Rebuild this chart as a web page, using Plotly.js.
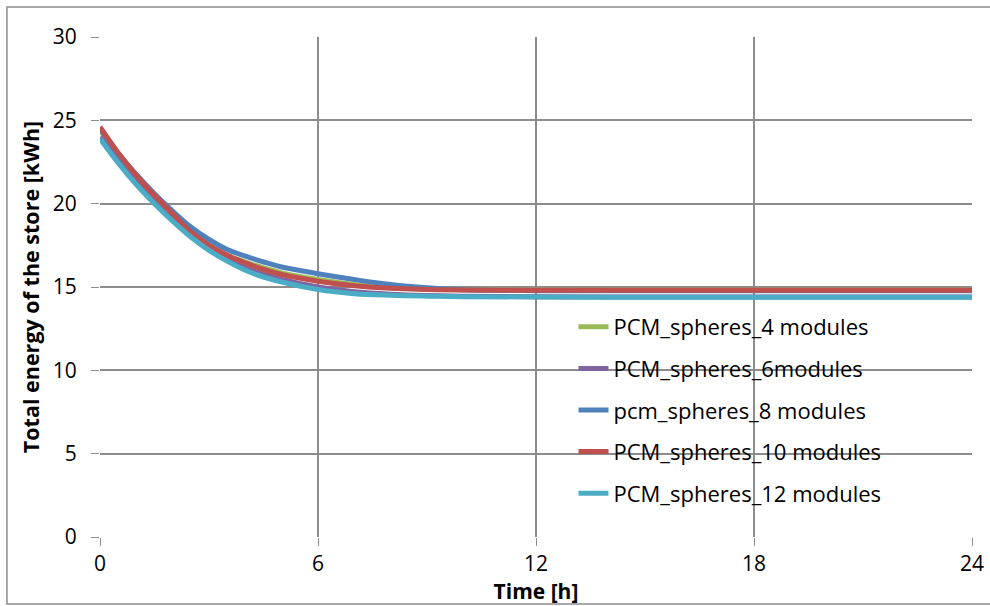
<!DOCTYPE html>
<html>
<head>
<meta charset="utf-8">
<script src="https://cdn.plot.ly/plotly-3.0.1.min.js"></script>
<style>html,body{margin:0;padding:0;background:#fff;}#chart{width:990px;height:606px;}</style>
</head>
<body>
<div id="chart"></div>
<script>
// Time [h]
const timeH = [0, 0.5, 1, 1.5, 2, 2.5, 3, 3.5, 4, 4.5, 5, 6, 7, 8, 9, 10, 12, 15, 18, 21, 24];

// Total energy of the store [kWh]
const pcm4  = [24.4, 23.0, 21.7, 20.5, 19.35, 18.3, 17.5, 16.9, 16.5, 16.15, 15.85, 15.45, 15.15, 14.95, 14.87, 14.83, 14.8, 14.8, 14.8, 14.8, 14.8];
const pcm6  = [24.0, 22.6, 21.3, 20.1, 19.05, 18.1, 17.3, 16.65, 16.15, 15.75, 15.45, 15.0, 14.72, 14.57, 14.49, 14.45, 14.42, 14.4, 14.4, 14.4, 14.4];
const pcm8  = [24.5, 23.0, 21.75, 20.6, 19.55, 18.6, 17.85, 17.25, 16.85, 16.5, 16.2, 15.8, 15.45, 15.15, 14.95, 14.83, 14.78, 14.78, 14.78, 14.78, 14.78];
const pcm10 = [24.6, 23.05, 21.7, 20.5, 19.4, 18.3, 17.5, 16.9, 16.45, 16.05, 15.75, 15.35, 15.08, 14.92, 14.85, 14.82, 14.8, 14.8, 14.8, 14.8, 14.8];
const pcm12 = [23.9, 22.45, 21.15, 20.0, 18.95, 18.0, 17.2, 16.55, 16.0, 15.6, 15.3, 14.85, 14.6, 14.5, 14.45, 14.42, 14.4, 14.38, 14.38, 14.38, 14.38];

const seriesNames = ["PCM_spheres_4 modules", "PCM_spheres_6modules", "pcm_spheres_8 modules", "PCM_spheres_10 modules", "PCM_spheres_12 modules"];
const seriesData = [pcm4, pcm6, pcm8, pcm10, pcm12];
const seriesColors = ["#9BBB59", "#8064A2", "#4F81BD", "#C0504D", "#4BACC6"];

const xTicks = [0, 6, 12, 18, 24];
const yTicks = [0, 5, 10, 15, 20, 25, 30];

const traces = seriesData.map((ys, i) => ({
  x: timeH, y: ys, type: "scatter", mode: "lines",
  name: seriesNames[i], legendgroup: "g" + i,
  line: {color: seriesColors[i], width: 5, shape: "spline", smoothing: 1}
}));

const font = "Open Sans, Noto Sans, DejaVu Sans, sans-serif";

const layout = {
  width: 990, height: 606,
  margin: {l: 100, r: 18, t: 37, b: 69},
  paper_bgcolor: "#ffffff", plot_bgcolor: "#ffffff",
  showlegend: true,
  font: {family: font, color: "#000000"},
  legend: {
    x: 0.543, y: 0.462, xanchor: "left", yanchor: "top",
    bgcolor: "rgba(0,0,0,0)", borderwidth: 0,
    font: {family: font, size: 22, color: "#000"},
    tracegroupgap: 10, traceorder: "grouped"
  },
  xaxis: {
    range: [0, 24], tickvals: xTicks, ticktext: xTicks.map(String),
    showgrid: true, gridcolor: "#8c8c8c", gridwidth: 2,
    zeroline: false, showline: false,
    ticks: "outside", ticklen: 8, tickcolor: "#8c8c8c", tickwidth: 1,
    tickfont: {family: font, size: 21, color: "#000"},
    title: {text: "<b>Time [h]</b>", font: {family: font, size: 21, color: "#000"}, standoff: 0}
  },
  yaxis: {
    range: [0, 30], tickvals: yTicks, ticktext: yTicks.map(String),
    showgrid: true, gridcolor: "#8c8c8c", gridwidth: 2,
    zeroline: false, showline: false,
    ticks: "outside", ticklen: 8, tickcolor: "#8c8c8c", tickwidth: 1,
    ticklabelstandoff: 10,
    tickfont: {family: font, size: 21, color: "#000"},
    title: {text: "<b>Total energy of the store [kWh]</b>", font: {family: font, size: 21.5, color: "#000"}, standoff: 7}
  },
  shapes: [{
    type: "rect", xref: "paper", yref: "paper",
    x0: -0.1067, x1: 1.2, y0: -0.134, y1: 1.06,
    line: {color: "#8c8c8c", width: 1.5}, fillcolor: "rgba(0,0,0,0)", layer: "below"
  }]
};

Plotly.newPlot("chart", traces, layout, {staticPlot: true, displayModeBar: false});
</script>
</body>
</html>
